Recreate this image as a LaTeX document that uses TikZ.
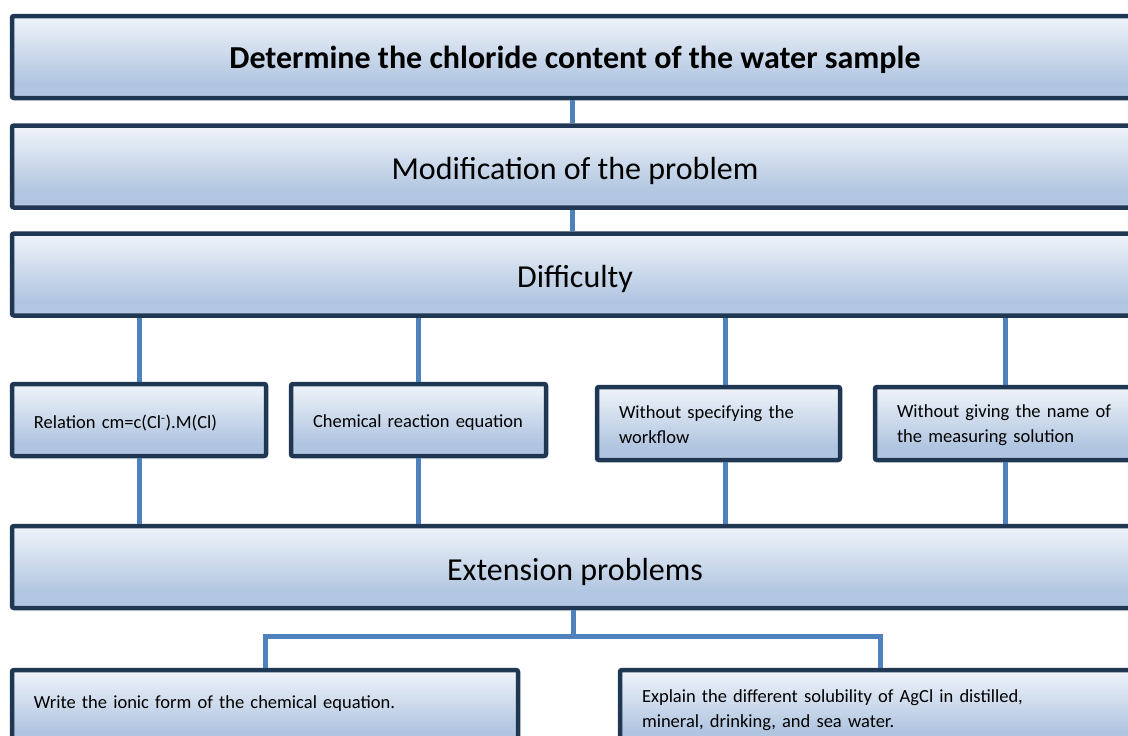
\documentclass[tikz,border=0pt]{standalone}
\usepackage{fontspec}
\setmainfont{Carlito}
\definecolor{navy}{RGB}{31,55,83}
\definecolor{conn}{RGB}{79,129,189}
\definecolor{shT}{RGB}{240,244,250}
\definecolor{shM}{RGB}{176,197,224}
\definecolor{shB}{RGB}{190,207,230}
\pgfdeclareverticalshading{boxshade}{100bp}{color(0bp)=(shB); color(25bp)=(shB); color(28bp)=(shM); color(34bp)=(shM); color(75bp)=(shT); color(100bp)=(shT)}
\newcommand{\dn}[2]{\raisebox{-#1pt}[\height][\depth]{#2}}
\newcommand{\up}[2]{\raisebox{#1pt}[\height][\depth]{#2}}
\tikzset{
  boxbase/.style={draw=navy, line width=4.5pt, rounded corners=2pt, shade, shading=boxshade},
  bigbox/.style={boxbase, minimum width=1126pt, minimum height=82pt, inner sep=0pt, font=\fontsize{32}{38}\selectfont},
  smallbox/.style={boxbase, inner xsep=22pt, inner ysep=0pt, align=left, font=\fontsize{18.5}{25}\selectfont},
  link/.style={draw=conn, line width=5pt}
}
\begin{document}
\begin{tikzpicture}[x=1pt,y=-1pt]
\useasboundingbox (0,0) rectangle (1128,736);
\clip (0,0) rectangle (1128,736);
\coordinate (j) at (573,636);
% boxes
\node[bigbox, font=\fontsize{32}{38}\selectfont\bfseries] (b1) at (575,57) {\dn{3}{Determine the chloride content of the water sample}};
\node[bigbox] (b2) at (575,166.5) {\dn{4}{Modification of the problem}};
\node[bigbox] (b3) at (575,274.5) {\dn{4.5}{Difficulty}};
\node[smallbox, text width=210pt, minimum height=72pt] (a) at (139,420) {\dn{3}{Relation cm=c(Cl\textsuperscript{-}).M(Cl)}};
\node[smallbox, text width=211pt, minimum height=72pt] (b) at (418.5,420) {\dn{3}{Chemical reaction equation}};
\node[smallbox, text width=199pt, minimum height=73pt] (c) at (718.5,423.5) {\dn{1}{\parbox{199pt}{Without specifying the\\workflow}}};
\node[smallbox, text width=216pt, minimum height=73pt] (d) at (1005,423.5) {\dn{1.5}{\parbox{216pt}{Without giving the name of\\the measuring solution}}};
\node[bigbox] (ext) at (575,567) {\dn{5}{Extension problems}};
\node[smallbox, text width=462pt, minimum height=75pt] (e) at (265,707.5) {\up{4}{Write the ionic form of the chemical equation.}};
\node[smallbox, text width=476pt, minimum height=75pt] (f) at (880,707.5) {\dn{3}{\parbox{476pt}{Explain the different solubility of AgCl in distilled,\\mineral, drinking, and sea water.}}};
% connectors
\draw[link] ([xshift=-3pt]b1.south) -- ([xshift=-3pt]b2.north);
\draw[link] ([xshift=-3pt]b2.south) -- ([xshift=-3pt]b3.north);
\draw[link] (a.north) -- (a.north |- b3.south);
\draw[link] (b.north) -- (b.north |- b3.south);
\draw[link] ([xshift=6.5pt]c.north) -- ([xshift=6.5pt]c.north |- b3.south);
\draw[link] (d.north) -- (d.north |- b3.south);
\draw[link] (a.south) -- (a.south |- ext.north);
\draw[link] (b.south) -- (b.south |- ext.north);
\draw[link] ([xshift=6.5pt]c.south) -- ([xshift=6.5pt]c.south |- ext.north);
\draw[link] (d.south) -- (d.south |- ext.north);
\draw[link] (ext.south -| j) -- (j);
\draw[link] (e.north) |- (j) -| (f.north);
\end{tikzpicture}
\end{document}
